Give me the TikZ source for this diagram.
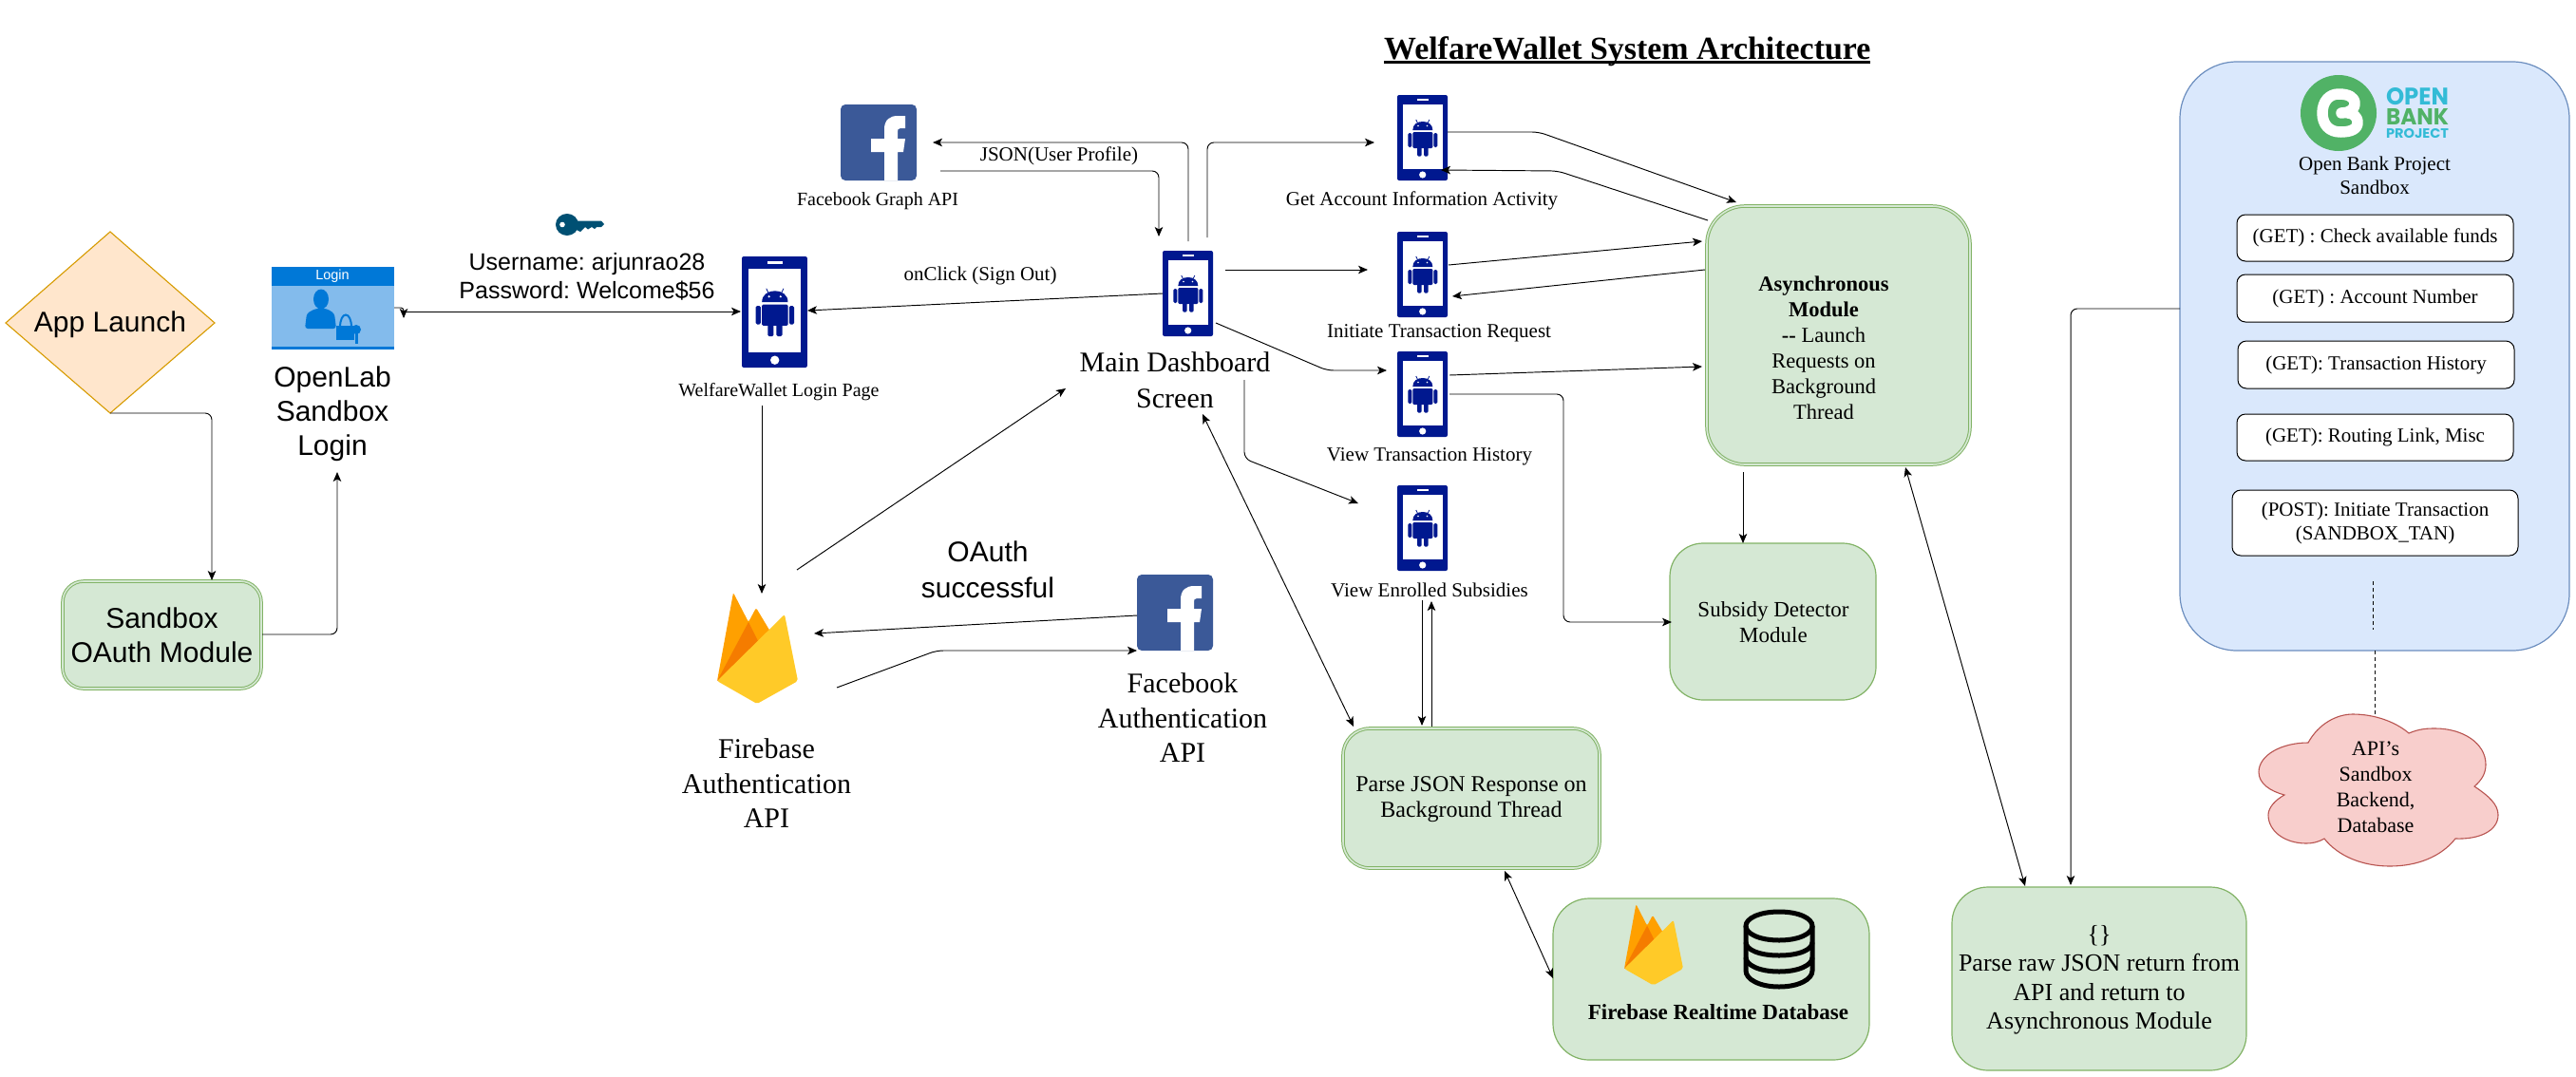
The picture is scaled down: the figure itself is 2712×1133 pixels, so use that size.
\documentclass[tikz,border=0pt]{standalone}
\usepackage{fontspec}
\usepackage{graphicx}
\setmainfont{Liberation Serif}
\setsansfont{Liberation Sans}
\newfontfamily\logofont{Poppins}
\usetikzlibrary{arrows.meta}
\definecolor{gfill}{HTML}{D5E8D4}
\definecolor{gline}{HTML}{82B366}
\definecolor{bfill}{HTML}{DAE8FC}
\definecolor{bline}{HTML}{6C8EBF}
\definecolor{rfill}{HTML}{F8CECC}
\definecolor{rline}{HTML}{B85450}
\definecolor{ofill}{HTML}{FFE6CC}
\definecolor{oline}{HTML}{D79B00}
\definecolor{navy}{HTML}{00188F}
\definecolor{fbblue}{HTML}{3B5998}
\definecolor{msblue}{HTML}{0078D7}
\definecolor{mslight}{HTML}{83BBEC}
\definecolor{keyblue}{HTML}{005073}
\definecolor{obpgreen}{HTML}{51B266}
\definecolor{obpcyan}{HTML}{33BBD6}
\newlength\titlew
\newcommand\fsz[2]{\fontsize{#1}{#2}\selectfont\frenchspacing}
\tikzset{
  conn/.style={draw=black,line width=.95pt,rounded corners=7pt,-{Stealth[length=10pt,width=8.5pt,inset=2.5pt]}},
  conntwo/.style={draw=black,line width=.95pt,{Stealth[length=10pt,width=8.5pt,inset=2.5pt]}-{Stealth[length=10pt,width=8.5pt,inset=2.5pt]}},
  gbox/.style={draw=gline,fill=gfill,line width=1.2pt,inner sep=0pt},
  gdouble/.style={gbox,line width=1pt,double=gfill,double distance=1.6pt},
  apibox/.style={draw=black,fill=white,line width=1pt,rounded corners=9pt,inner sep=0pt,align=center,font=\fsz{21}{25}},
  serlab/.style={inner sep=0pt,align=center,font=\fsz{21}{27}},
  serbig/.style={inner sep=0pt,align=center,font=\fsz{30}{37}},
  sanbig/.style={inner sep=0pt,align=center,font=\sffamily\fsz{30}{37}}
}
% phone icon: top-left x,y, scale
\newcommand\phoneicon[4]{%
\begin{scope}[shift={(#2,#3)},scale=#4]
 \node[transform shape,inner sep=0pt,minimum width=53pt,minimum height=90pt] (#1) at (26.5,45) {};
 \fill[navy,rounded corners=2pt] (0,0) rectangle (53,90);
 \fill[white] (5.7,9.7) rectangle (48,78);
 \fill[white] (21,4) rectangle (33.3,6.3);
 \fill[white] (26.7,84) circle (3.6);
 \fill[navy] (16.3,37) .. controls (16.3,31) and (21,28) .. (26.8,28) .. controls (32.6,28) and (37.3,31) .. (37.3,37) -- cycle;
 \fill[navy,rounded corners=1.2pt] (16.3,39) rectangle (37.3,56);
 \fill[navy,rounded corners=1.5pt] (11.3,40) rectangle (15.3,55);
 \fill[navy,rounded corners=1.5pt] (38.3,40) rectangle (42.3,55);
 \fill[navy,rounded corners=1.5pt] (21,52) rectangle (25.7,64.7);
 \fill[navy,rounded corners=1.5pt] (28,52) rectangle (32.7,64.7);
 \draw[navy,line width=.8pt] (21.5,29.5) -- (19.8,26);
 \draw[navy,line width=.8pt] (32.1,29.5) -- (33.8,26);
 \fill[white] (22,32.5) circle (.9);
 \fill[white] (31.4,32.5) circle (.9);
\end{scope}}
% facebook icon 80x80
\newcommand\fbicon[3]{%
\begin{scope}[shift={(#2,#3)}]
 \node[inner sep=0pt,minimum width=80pt,minimum height=80pt] (#1) at (40,40) {};
 \fill[fbblue,rounded corners=5pt] (0,0) rectangle (80,80);
 \fill[white] (46,80) -- (46,50) -- (32,50) -- (32,36) -- (46,36) -- (46,26) .. controls (46,16) and (52,12) .. (60,12) -- (68,12) -- (68,25) -- (63,25) .. controls (60,25) and (60,27) .. (60,29) -- (60,36) -- (68,36) -- (66,50) -- (60,50) -- (60,80) -- cycle;
\end{scope}}
% firebase icon 85x117
\newcommand\fireicon[4]{%
\begin{scope}[shift={(#2,#3)},scale=#4]
 \node[transform shape,inner sep=0pt,minimum width=85pt,minimum height=117pt] (#1) at (42.5,58.5) {};
 \fill[color={rgb,255:red,255;green,160;blue,0},rounded corners=1.5pt] (0,93) -- (17,0) -- (33,31) -- (41,16) -- (56,41) -- (42,60) -- cycle;
 \fill[color={rgb,255:red,245;green,124;blue,0}] (0,93) -- (33,31) -- (43,51) -- (20,80) -- cycle;
 \fill[color={rgb,255:red,255;green,202;blue,40},rounded corners=2pt] (0,93) -- (71,23) -- (85,93) -- (42,117) -- cycle;
\end{scope}}
\begin{document}
\begin{tikzpicture}[x=1pt,y=-1pt]
\path[use as bounding box,fill=white] (0,0) rectangle (2712,1133);

% title
\node[anchor=base west,inner sep=0pt,font=\bfseries\fsz{33.9}{40}] (title) at (1457,62)
  {\settowidth\titlew{WelfareWallet System Architecture}\rlap{WelfareWallet System Architecture}\rule[-4.5pt]{\titlew}{2.6pt}};

% left column
\path[draw=oline,fill=ofill,line width=1.1pt] (6,340) -- (116,244) -- (226,340) -- (116,435) -- cycle;
\node[inner sep=0pt,font=\sffamily\fsz{30}{36}] (launch) at (116,342) {App Launch};
\coordinate (launchS) at (116,435);
\node[gdouble,rounded corners=22pt,minimum width=209pt,minimum height=113pt,font=\sffamily\fsz{30}{36},align=center] (sandbox) at (170.5,668.5) {Sandbox\\OAuth Module};

% login picture
\fill[mslight] (286,281) rectangle (415,367);
\fill[msblue] (286,281) rectangle (415,301);
\fill[msblue] (286,365) rectangle (415,367.5);
\node[inner sep=0pt,text=white,font=\sffamily\fsz{14.5}{16}] (loginhdr) at (350,291) {Login};
\fill[msblue] (338,315) ellipse (8 and 10.5);
\fill[msblue,rounded corners=3pt] (321,346) -- (323,330) -- (332,325) -- (344,325) -- (352,330) -- (354,346) -- cycle;
\draw[msblue,line width=2pt] (358,345) .. controls (358,327) and (370,327) .. (370,345);
\fill[msblue] (354,343) rectangle (373,358);
\fill[msblue] (375,347) circle (5);
\fill[msblue] (373.5,347) rectangle (376.5,362);
\node[inner sep=0pt,minimum width=129pt,minimum height=86pt] (loginpic) at (350.5,324) {};
\node[sanbig,font=\sffamily\fsz{30}{36}] (openlab) at (350,436) {OpenLab\\Sandbox\\Login};

% key
\fill[keyblue] (597,236.5) ellipse (12 and 11.5);
\fill[keyblue] (605,232.5) -- (633,232.5) -- (636,236) -- (633,239) -- (628,239) -- (626,241) -- (623,239) -- (619,241.5) -- (616,239) -- (611,244) -- (605,241) -- cycle;
\fill[white] (592,236.5) circle (2.8);
\node[inner sep=0pt,minimum width=50pt,minimum height=23pt] (keyicon) at (610,236.5) {};
\node[inner sep=0pt,font=\sffamily\fsz{25}{30},align=center] (cred) at (618,291) {Username: arjunrao28\\Password: Welcome\$56};

\phoneicon{loginphone}{781}{270}{1.3}
\node[serlab,font=\fsz{20}{27}] (loginlab) at (820,413) {WelfareWallet Login Page};

% firebase auth
\fireicon{fireauth}{755}{624}{1}
\node[serbig,font=\fsz{30}{36.5}] (firelab) at (807,825) {Firebase\\Authentication\\API};
\node[sanbig,font=\sffamily\fsz{30}{38}] (oauth) at (1040,600) {OAuth\\successful};
\fbicon{fbauth}{1197}{605}
\node[serbig,font=\fsz{30}{36.5}] (fbauthlab) at (1245,756) {Facebook\\Authentication\\API};

% graph api
\fbicon{fbgraph}{885}{110}
\node[serlab,font=\fsz{20}{27}] (graphlab) at (924,212) {Facebook Graph API};
\node[serlab] (jsonlab) at (1115,164) {JSON(User Profile)};
\node[serlab] (signout) at (1032,290) {onClick (Sign Out)};

% main phone
\phoneicon{mainphone}{1224}{264}{1}
\node[serbig,font=\fsz{30}{38}] (mainlab) at (1237,400) {Main Dashboard\\Screen};

% activity phones
\phoneicon{acct}{1471}{100}{1}
\node[serlab] (acctlab) at (1497,211) {Get Account Information Activity};
\phoneicon{init}{1471}{244}{1}
\node[serlab] (initlab) at (1515,351) {Initiate Transaction Request};
\phoneicon{hist}{1471}{370}{1}
\node[serlab] (histlab) at (1505,481) {View Transaction History};
\phoneicon{subs}{1471}{511}{1}
\node[serlab] (subslab) at (1505,621) {View Enrolled Subsidies};

% green boxes
\node[gdouble,rounded corners=40pt,minimum width=277pt,minimum height=272pt] (async) at (1935.5,353) {};
\node[inner sep=0pt,align=center,font=\fsz{22.5}{27}] (asynctext) at (1920,366) {\textbf{Asynchronous}\\\textbf{Module}\\\textbf{-{}-} Launch\\Requests on\\Background\\Thread};
\node[gbox,rounded corners=35pt,minimum width=217pt,minimum height=165pt] (subsidy) at (1866.5,654.5) {};
\node[inner sep=0pt,align=center,font=\fsz{23}{27}] (subsidytext) at (1867,655.5) {Subsidy Detector\\Module};
\node[gdouble,rounded corners=28pt,minimum width=270pt,minimum height=147pt] (parse) at (1549,840.5) {};
\node[inner sep=0pt,align=center,font=\fsz{24}{27}] (parsetext) at (1549,841.5) {Parse JSON Response on\\Background Thread};
\node[gbox,rounded corners=38pt,minimum width=333pt,minimum height=170pt] (dbbox) at (1801.5,1031) {};
\fireicon{firedb}{1710}{952}{.73}
\draw[black,line width=5pt] (1873,960) .. controls (1852,960) and (1838,967) .. (1838,975) .. controls (1838,983) and (1852,990) .. (1873,990) .. controls (1894,990) and (1908,983) .. (1908,975) .. controls (1908,967) and (1894,960) .. (1873,960) -- cycle;
\draw[black,line width=5pt] (1838,975) -- (1838,1022) .. controls (1838,1031) and (1852,1039) .. (1873,1039) .. controls (1894,1039) and (1908,1031) .. (1908,1022) -- (1908,975);
\draw[black,line width=5pt] (1838,992) .. controls (1838,1000) and (1852,1006) .. (1873,1006) .. controls (1894,1006) and (1908,1000) .. (1908,992);
\draw[black,line width=5pt] (1838,1008) .. controls (1838,1016) and (1852,1023) .. (1873,1023) .. controls (1894,1023) and (1908,1016) .. (1908,1008);
\node[inner sep=0pt,font=\bfseries\fsz{23}{25}] (dblab) at (1809,1066) {Firebase Realtime Database};
\node[gbox,rounded corners=38pt,minimum width=310pt,minimum height=193pt] (raw) at (2210,1030.5) {};
\node[inner sep=0pt,align=center,font=\fsz{26}{30.5}] (rawtext) at (2210,1032) {\{\}\\Parse raw JSON return from\\API and return to\\Asynchronous Module};

% OBP
\node[draw=bline,fill=bfill,line width=1.2pt,rounded corners=60pt,inner sep=0pt,minimum width=410pt,minimum height=620pt] (obp) at (2500,375) {};
\fill[obpgreen] (2462,119) circle (40);
\draw[white,line width=11.5pt,line cap=round,line join=round] (2465,119) .. controls (2472,119) and (2479,116) .. (2479,109) .. controls (2479,102) and (2472,99) .. (2462,99) .. controls (2452,99) and (2445,107) .. (2445,119) .. controls (2445,131) and (2452,139) .. (2464,139) .. controls (2475,139) and (2482,136) .. (2482,129) .. controls (2482,122) and (2476,119) .. (2472,119);
\node[inner sep=0pt,text=obpcyan,font=\logofont\bfseries] (logoa) at (2545,102) {\resizebox{66pt}{18pt}{OPEN}};
\node[inner sep=0pt,text=obpgreen,font=\logofont\bfseries] (logob) at (2545,123) {\resizebox{66pt}{17pt}{BANK}};
\node[inner sep=0pt,text=obpcyan,font=\logofont\bfseries] (logoc) at (2545,141) {\resizebox{66pt}{10pt}{PROJECT}};
\node[inner sep=0pt,align=center,font=\fsz{21}{25}] (obplab) at (2500,185) {Open Bank Project\\Sandbox};
\node[apibox,minimum width=291pt,minimum height=49pt] (api1) at (2500.5,250.5) {(GET) : Check available funds};
\node[apibox,minimum width=291pt,minimum height=50pt] (api2) at (2500.5,314) {(GET) : Account Number};
\node[apibox,minimum width=291pt,minimum height=50pt] (api3) at (2501.5,384) {(GET): Transaction History};
\node[apibox,minimum width=291pt,minimum height=49pt] (api4) at (2500.5,460.5) {(GET): Routing Link, Misc};
\node[apibox,minimum width=301pt,minimum height=69pt] (api5) at (2500.5,550.5) {(POST): Initiate Transaction\\(SANDBOX\_TAN)};
\coordinate (dashA) at (2498,612);
\coordinate (dashB) at (2498,663);
\draw[black,line width=1pt,dash pattern=on 4pt off 3pt] (dashA) -- (dashB);

% cloud
\path[draw=rline,fill=rfill,line width=1.1pt] (2430,782) .. controls (2441,762) and (2460,752) .. (2477,752) .. controls (2500,752) and (2522,760) .. (2536,772) .. controls (2548,767) and (2556,767) .. (2564,767) .. controls (2592,767) and (2617,782) .. (2617,805) .. controls (2617,815) and (2612,822) .. (2605,828) .. controls (2620,838) and (2630,847) .. (2630,858) .. controls (2630,875) and (2610,884) .. (2585,883) .. controls (2570,902) and (2545,912) .. (2516,912) .. controls (2488,912) and (2462,902) .. (2447,883) .. controls (2440,887) and (2434,888) .. (2428,888) .. controls (2405,888) and (2388,875) .. (2388,858) .. controls (2388,850) and (2396,842) .. (2405,837) .. controls (2390,833) and (2378,825) .. (2378,813) .. controls (2378,795) and (2402,782) .. (2430,782) -- cycle;
\node[inner sep=0pt,align=center,font=\fsz{22}{27}] (cloud) at (2501,829) {API's\\Sandbox\\Backend,\\Database};
\coordinate (cloudtop) at (2500,754);
\coordinate (obpbot) at (2500,685);
\draw[black,line width=1pt,dash pattern=on 4pt off 3pt] (obpbot) -- (cloudtop);

% free connector ends
\coordinate (sbx1) at (276,668);
\coordinate (sbx2) at (355,668);
\coordinate (lab1) at (355,497);
\coordinate (launch2) at (223,435);
\coordinate (launch3) at (223,611);
\coordinate (stubA) at (415,324);
\coordinate (stubB) at (425,324);
\coordinate (stubC) at (425,335);
\coordinate (credA) at (425,328);
\coordinate (credB) at (780,328);
\coordinate (l2fA) at (802,427);
\coordinate (l2fB) at (802,625);
\coordinate (f2mA) at (839,600);
\coordinate (f2mB) at (1122,409);
\coordinate (fb2fA) at (1197,648);
\coordinate (fb2fB) at (857,667);
\coordinate (f2fbA) at (881,724);
\coordinate (f2fbM) at (986,685);
\coordinate (f2fbB) at (1197,685);
\coordinate (m2gA) at (1251,254);
\coordinate (m2gM) at (1251,150);
\coordinate (m2gB) at (982,150);
\coordinate (g2mA) at (990,180);
\coordinate (g2mM) at (1220,180);
\coordinate (g2mB) at (1220,249);
\coordinate (m2aA) at (1271,250);
\coordinate (m2aM) at (1271,150);
\coordinate (m2aB) at (1447,150);
\coordinate (m2iA) at (1290,284);
\coordinate (m2iB) at (1440,284);
\coordinate (m2lA) at (1224,309);
\coordinate (m2lB) at (850,327);
\coordinate (m2hA) at (1280,340);
\coordinate (m2hM) at (1397,390);
\coordinate (m2hB) at (1460,390);
\coordinate (m2sA) at (1310,400);
\coordinate (m2sM) at (1310,483);
\coordinate (m2sB) at (1430,530);
\coordinate (mpA) at (1266,436);
\coordinate (mpB) at (1425,765);
\coordinate (a2asA) at (1524,139);
\coordinate (a2asM) at (1620,139);
\coordinate (a2asB) at (1828,213);
\coordinate (as2aA) at (1798,232);
\coordinate (as2aM) at (1640,180);
\coordinate (as2aB) at (1517,179);
\coordinate (i2asA) at (1525,279);
\coordinate (i2asB) at (1792,254);
\coordinate (as2iA) at (1795,284);
\coordinate (as2iB) at (1529,312);
\coordinate (h2asA) at (1526,395);
\coordinate (h2asB) at (1792,386);
\coordinate (h2dA) at (1526,415);
\coordinate (h2dM) at (1646,415);
\coordinate (h2dN) at (1646,655);
\coordinate (h2dB) at (1760,655);
\coordinate (s2pA) at (1497,632);
\coordinate (s2pB) at (1497,764);
\coordinate (p2sA) at (1507,765);
\coordinate (p2sB) at (1507,633);
\coordinate (pdA) at (1584,917);
\coordinate (pdB) at (1635,1030);
\coordinate (as2dA) at (1835,497);
\coordinate (as2dB) at (1835,572);
\coordinate (arA) at (2006,492);
\coordinate (arB) at (2132,933);
\coordinate (obpA) at (2295,325);
\coordinate (obpM) at (2180,325);
\coordinate (obpB) at (2180,932);

% connectors
\draw[conn] (launchS) -- (launch2) -- (launch3);
\draw[conn] (sbx1) -- (sbx2) -- (lab1);
\draw[line width=.95pt,rounded corners=3pt,-{Stealth[length=10pt,width=8.5pt,inset=2.5pt]}] (stubA) -- (stubB) -- (stubC);
\draw[conn] (credA) -- (credB);
\draw[conn] (l2fA) -- (l2fB);
\draw[conn] (f2mA) -- (f2mB);
\draw[conn] (fb2fA) -- (fb2fB);
\draw[conn] (f2fbA) -- (f2fbM) -- (f2fbB);
\draw[conn] (m2gA) -- (m2gM) -- (m2gB);
\draw[conn] (g2mA) -- (g2mM) -- (g2mB);
\draw[conn] (m2aA) -- (m2aM) -- (m2aB);
\draw[conn] (m2iA) -- (m2iB);
\draw[conn] (m2lA) -- (m2lB);
\draw[conn] (m2hA) -- (m2hM) -- (m2hB);
\draw[conn] (m2sA) -- (m2sM) -- (m2sB);
\draw[conntwo] (mpA) -- (mpB);
\draw[conn] (a2asA) -- (a2asM) -- (a2asB);
\draw[conn] (as2aA) -- (as2aM) -- (as2aB);
\draw[conn] (i2asA) -- (i2asB);
\draw[conn] (as2iA) -- (as2iB);
\draw[conn] (h2asA) -- (h2asB);
\draw[conn] (h2dA) -- (h2dM) -- (h2dN) -- (h2dB);
\draw[conn] (s2pA) -- (s2pB);
\draw[conn] (p2sA) -- (p2sB);
\draw[conntwo] (pdA) -- (pdB);
\draw[conn] (as2dA) -- (as2dB);
\draw[conntwo] (arA) -- (arB);
\draw[conn] (obpA) -- (obpM) -- (obpB);
\end{tikzpicture}
\end{document}
